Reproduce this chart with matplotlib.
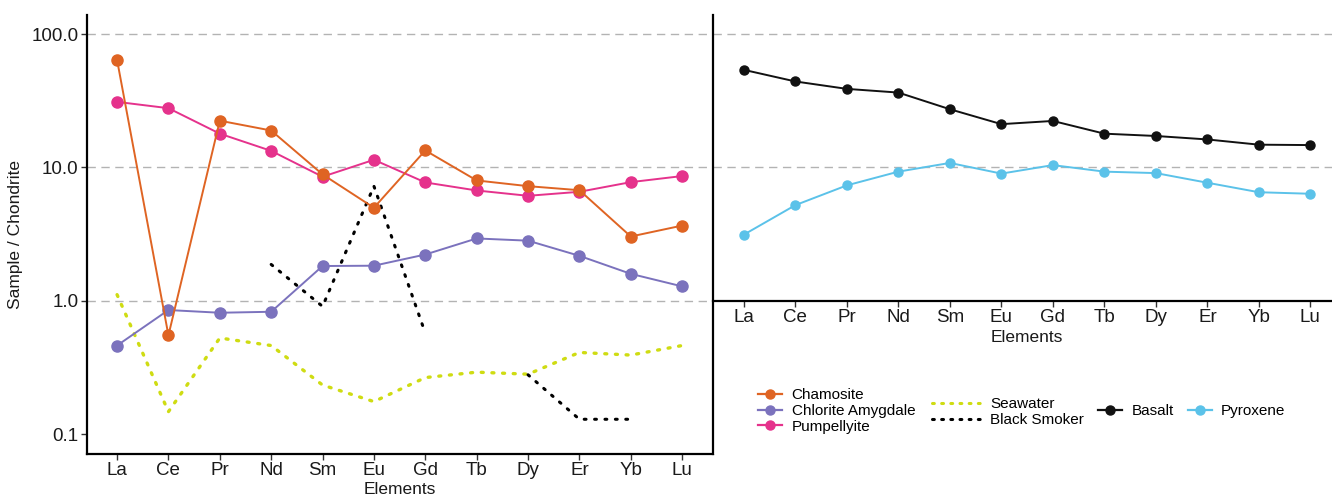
import matplotlib
matplotlib.use("Agg")
import matplotlib.pyplot as plt
import numpy as np
from matplotlib.lines import Line2D

plt.rcParams['font.family'] = ['Liberation Sans', 'DejaVu Sans']

elements = ["La", "Ce", "Pr", "Nd", "Sm", "Eu", "Gd", "Tb", "Dy", "Er", "Yb", "Lu"]

chamosite = [64.0, 0.55, 22.4, 18.9, 8.86, 4.98, 13.4, 7.98, 7.23, 6.74, 3.03, 3.66]
chlorite_amygdale = [0.461, 0.851, 0.812, 0.826, 1.82, 1.83, 2.22, 2.93, 2.82, 2.17, 1.59, 1.28]
pumpellyite = [31.0, 27.8, 17.9, 13.3, 8.51, 11.4, 7.71, 6.71, 6.12, 6.56, 7.75, 8.61]
seawater = [1.11, 0.147, 0.525, 0.461, 0.233, 0.175, 0.265, 0.291, 0.281, 0.409, 0.391, 0.461]
black_smoker = [np.nan, np.nan, np.nan, 1.87, 0.906, 7.23, 0.571, np.nan, 0.278, 0.129, 0.129, np.nan]

basalt = [53.9, 44.1, 38.8, 36.4, 27.3, 21.1, 22.3, 17.9, 17.2, 16.2, 14.8, 14.7]
pyroxene = [3.13, 5.21, 7.33, 9.29, 10.8, 8.98, 10.4, 9.29, 9.06, 7.67, 6.51, 6.34]

yticks = [0.1, 1.0, 10.0, 100.0]
ytick_labels = ["0.1", "1.0", "10.0", "100.0"]

c_cham = "#DF6423"
c_chl = "#7B72BD"
c_pump = "#E5328C"
c_sea = "#CFDC12"
c_bs = "#000000"
c_bas = "#111111"
c_pyx = "#5BC2E9"

W, H = 1332, 497
fig = plt.figure(figsize=(W / 100, H / 100), dpi=100)

x = np.arange(len(elements))
ylo, yhi = 0.0708, 139.0

def px(x0, y0, x1, y1):
    return [x0 / W, 1 - y1 / H, (x1 - x0) / W, (y1 - y0) / H]

# ---------- left panel ----------
ax1 = fig.add_axes(px(87, 15, 713, 454))
ax1.set_yscale("log")
ax1.set_ylim(ylo, yhi)
ax1.set_xlim(-0.585, 11.6)
for yv in [1.0, 10.0, 100.0]:
    ax1.axhline(yv, color="#b3b3b3", lw=1.0, ls=(0, (6, 4)), zorder=0)

dot = dict(dash_capstyle="round")
ax1.plot(x, seawater, color=c_sea, lw=2.4, ls=(0, (0.6, 2.6)), **dot, zorder=2)
ax1.plot(x, black_smoker, color=c_bs, lw=2.2, ls=(0, (0.6, 2.8)), **dot, zorder=2)
ax1.plot(x, chlorite_amygdale, color=c_chl, lw=1.4, marker="o", ms=8, zorder=3)
ax1.plot(x, pumpellyite, color=c_pump, lw=1.4, marker="o", ms=8, zorder=3)
ax1.plot(x, chamosite, color=c_cham, lw=1.4, marker="o", ms=8, zorder=4)

ax1.set_xticks(x)
ax1.set_xticklabels(elements)
ax1.set_yticks(yticks)
ax1.set_yticklabels(ytick_labels)
ax1.yaxis.set_minor_locator(matplotlib.ticker.NullLocator())
for s in ["top", "right"]:
    ax1.spines[s].set_visible(False)
for s in ["left", "bottom"]:
    ax1.spines[s].set_linewidth(1.6)
ax1.tick_params(axis="both", labelsize=13.5, length=4, width=1.0, color="#333333", labelcolor="#1a1a1a", pad=2)
ax1.set_ylabel("Sample / Chondrite", fontsize=12.5, color="#1a1a1a", labelpad=6)
fig.text(400 / W, 1 - 489 / H, "Elements", ha="center", va="center", fontsize=12.5, color="#1a1a1a")

# ---------- right panel ----------
ax2 = fig.add_axes(px(713, 15, 1332, 454))
ax2.set_yscale("log")
ax2.set_ylim(ylo, yhi)
ax2.set_xlim(-0.6, 11.42)
for yv in [10.0, 100.0]:
    ax2.axhline(yv, color="#b3b3b3", lw=1.0, ls=(0, (6, 4)), zorder=0)
ax2.plot(x, basalt, color=c_bas, lw=1.4, marker="o", ms=6.5, zorder=3)
ax2.plot(x, pyroxene, color=c_pyx, lw=1.4, marker="o", ms=6.5, zorder=3)
ax2.set_xticks(x)
ax2.set_xticklabels(elements)
ax2.set_yticks([])
ax2.yaxis.set_minor_locator(matplotlib.ticker.NullLocator())
ax2.spines["bottom"].set_position(("data", 1.0))
for s in ["top", "right"]:
    ax2.spines[s].set_visible(False)
for s in ["left", "bottom"]:
    ax2.spines[s].set_linewidth(1.6)
ax2.tick_params(axis="x", labelsize=13.5, length=4, width=1.0, color="#333333", labelcolor="#1a1a1a", pad=2)
fig.text(1027 / W, 1 - 338 / H, "Elements", ha="center", va="center", fontsize=12.5, color="#1a1a1a")

# ---------- legends ----------
def mk(color, marker=True):
    if marker:
        return Line2D([], [], color=color, lw=1.6, marker="o", ms=6.5)
    return Line2D([], [], color=color, lw=2.2, ls=(0, (0.6, 2.4)), dash_capstyle="round")

leg_kw = dict(frameon=False, fontsize=11, handlelength=1.6, handletextpad=0.6,
              labelspacing=0.12, borderpad=0, borderaxespad=0)
fig.legend([mk(c_cham), mk(c_chl), mk(c_pump)],
           ["Chamosite", "Chlorite Amygdale", "Pumpellyite"],
           loc="center left", bbox_to_anchor=(758 / W, 1 - 411 / H), **leg_kw)
fig.legend([mk(c_sea, False), mk(c_bs, False)],
           ["Seawater", "Black Smoker"],
           loc="center left", bbox_to_anchor=(932 / W, 1 - 412 / H),
           **{**leg_kw, "handlelength": 3.2})
fig.legend([mk(c_bas), mk(c_pyx)], ["Basalt", "Pyroxene"],
           loc="center left", bbox_to_anchor=(1098 / W, 1 - 411 / H), ncol=2,
           columnspacing=0.9, **leg_kw)

fig.savefig("out.png", dpi=100)
